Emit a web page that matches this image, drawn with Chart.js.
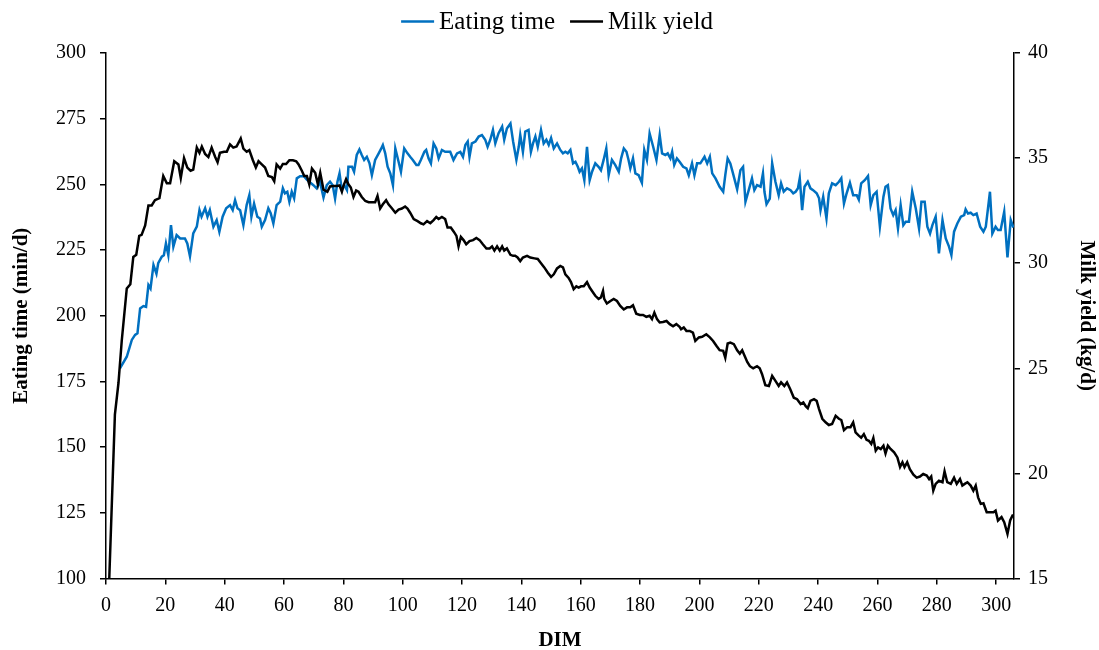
<!DOCTYPE html>
<html>
<head>
<meta charset="utf-8">
<title>Eating time and milk yield by DIM</title>
<script src="https://cdn.jsdelivr.net/npm/chart.js@4/dist/chart.umd.min.js"></script>
<style>
  html, body { margin: 0; padding: 0; background: #ffffff; }
  #wrap { width: 1099px; height: 650px; position: relative; }
</style>
</head>
<body>
<div id="wrap"><canvas id="chart"></canvas></div>
<script>
// Days in milk (DIM) and daily mean eating time, min/d
const eatingDim = [
  4.7,7,8.7,9.8,10.6,11.5,12.6,13.5,14.3,15,16,17,17.6,18.8,19.5,20.2,21,21.9,22.7,23.8,25,26.6,27.4,28.3,29.4,30.6,31.5,32.2,33.4,34.2,35,36.2,37.3,38.2,39.3,40.5,41.8,42.7,43.5,44.3,45.2,46.3,47.4,48.3,49,49.9,51,51.9,52.5,53.6,54.7,55.5,56.4,57.5,58.7,59.6,60.3,61.1,61.8,62.6,63.4,64.3,65.4,66.7,67.6,68.5,69.9,71,72.1,73.3,74.4,75.5,
  76.4,77.2,78,78.7,79.5,80.3,81.2,81.7,82.9,83.6,84.5,85.4,86.2,87,87.9,88.8,89.6,90.7,91.9,92.6,93.3,94.1,94.9,95.8,96.7,97.5,98.6,99.4,100.5,101.6,102.5,103.4,104.6,105.3,106.1,107.3,107.9,108.7,109.5,110.4,111.3,112.1,113.2,114.3,116,117.1,118.3,119.4,120.3,121.1,121.9,122.5,123.3,124.5,125.6,126.7,127.8,128.6,129.5,130.4,131.2,132.3,133.5,134.2,135.1,136.3,137.2,138.3,139.1,139.6,140.5,141.3,142.4,143.2,143.9,144.7,145.5,146.6,147.5,148.4,149.2,150,150.9,152,153.1,
  154,154.8,155.6,156.5,157.4,158.2,159,159.6,160.4,161.2,162.1,163,163.8,164.9,166,166.8,167.7,168.6,169.4,170.5,171.6,172.8,173.6,174.5,175.4,176.1,176.7,177.6,178.4,179.5,180.6,181.4,182.3,183.2,184.4,185.5,186.6,187.4,188.5,189.3,190.2,190.8,191.5,192.4,193.3,194.5,195.6,196.4,197.5,198.3,199.2,200.3,201.7,202.6,203.5,204.3,205.4,206.8,208,208.7,209.5,210.4,211.3,212.7,213.8,214.7,215.5,216.6,217.7,218.5,219.4,220.6,221.4,221.9,222.6,223.7,224.5,225.6,226.7,227.5,228.4,229.5,230.7,
  231.6,232.4,233.2,233.8,234.6,235.4,236.5,237.4,238.3,239.5,240.3,240.8,241.7,242.8,243.6,244.7,245.9,247,247.8,248.7,249.6,250.7,251.8,253,253.7,254.5,255.7,256.8,257.7,258.6,259.7,260.8,262,262.7,263.5,264.4,265.3,266.1,266.9,267.8,268.7,269.5,270.6,271.7,272.9,274,274.8,275.9,276.8,277.7,278.5,279.6,280.7,281.9,283,284.1,284.9,285.8,286.9,288.1,289.2,289.7,290.5,291.4,292.3,293.4,294.6,295.7,296.5,297.9,298.7,299.8,300.6,301.5,302.7,303.8,304.9,305.8
];
const eatingTime = [
  180,184.4,190.8,192.7,193.3,202.8,203.7,203.4,211.7,210.4,219.3,216,220,222.5,223,227.5,223.1,234.5,226.3,230.7,229.4,229.4,227.5,222.6,231.3,233.9,240.2,237.7,240.9,237.7,240.2,233.9,236.4,232,237.7,240.9,242.1,240.2,244,240.9,240.2,234.5,242.1,245.9,237.7,242.7,237.7,237,233.9,236.4,240.9,239,235.1,242.1,243.4,248.5,246.6,247.2,243.4,247.2,244.7,252.3,253.1,253.1,251.9,251,249.7,248.5,251,245,249.7,251,
  249.7,244.6,251,254.2,247.8,249.7,247.8,256.7,256.7,254.8,261.2,263.3,261.2,259.3,260.5,258,253.5,259.3,261.8,263.3,265,261.8,256.7,254.2,249.7,263.7,258.6,254.8,263.7,261.8,260.5,259.3,257.4,257.4,259.3,262.4,263.1,259.9,258,265.6,263.7,259.9,263.1,262.4,262.4,259.3,261.8,262.4,260.5,265,266.3,260.5,265.6,266.3,268.2,268.8,267,264.3,267,270.7,265.6,269.5,272,267,271.3,273.2,266.3,259.3,264.3,268.8,262.4,270.1,270.7,262.4,265.6,268.2,264.3,270.7,265.6,267,265,267.6,263.7,265.6,263.1,
  261.8,262.4,261.8,263.1,258,258.6,256.7,254.8,256.1,251.6,264.3,251.6,254.8,258,256.7,255.4,259.3,263.7,253.5,259.3,257.4,254.8,259.9,263.7,262.4,259.3,256.1,259.9,254.2,253.5,250.6,263.1,259.3,269.4,264.3,259.3,268.8,261.8,261.2,261.8,259.9,262.4,257.4,259.9,258.6,256.7,256.1,253.5,258,253.5,258,258,260.5,258,260.5,254.2,252.3,249.1,247.2,253.5,259.9,258,254.2,248.1,255.4,256.7,243.4,247.8,252.3,247.8,249.7,249.1,254.2,247.2,242.5,244.6,258,251,245.9,250.4,247.2,248.5,247.8,
  246.6,247.2,248.5,252.3,240.2,249.1,251,248.5,247.8,246.6,244.7,240.2,245.3,237,246.6,250.4,249.7,251,252.3,242.7,246.6,250.6,245.9,245.9,244.2,250.4,251.6,253.2,242.1,245.9,247.2,233.9,245.3,249.1,249.7,240.8,238.3,240.2,233.2,242.1,234.5,235.8,235.8,247.2,240.8,233.2,243.4,243.4,233.9,231.3,234.5,237.7,223.7,236.4,229.4,226.3,223.1,232,235.1,237.7,238.3,240.5,238.9,239.2,238.3,238.9,233.9,232,233.9,247.2,231.3,233.9,232.6,232.6,239.6,222.2,236.4,233.6
];

// Days in milk (DIM) and daily mean milk yield, kg/d
const milkDim = [
  1.1,3,4.2,5.3,7,8.2,9.2,10.2,11.2,12,13.2,14.3,15.4,16.5,18,19.3,20.5,21.6,23,24.4,25.2,26.3,27.4,28.5,29.4,30.6,31.5,32.3,33.4,34.5,35.6,36.8,37.6,38.4,39.8,40.7,41.8,42.9,44,45.4,46.3,47.4,48.3,49.5,50.5,51.4,52.5,53.6,54.7,55.9,56.7,57.5,58.7,59.6,60.7,61.8,63,64.1,64.9,66,66.8,67.7,68.5,69.4,70.5,71.4,72.2,73.3,74.6,75.5,
  76.7,77.8,78.7,79.5,80,80.9,81.7,82.5,83.4,84.3,85.1,86.2,87.4,88.5,89.9,90.7,91.5,92.4,93.3,94.4,95.2,96.4,97.5,98.6,99.7,100.8,101.6,102.5,103.7,105,106.1,107,108.2,109.3,110.4,111.3,112.1,113.2,114.3,115.1,116.2,117.2,118.1,118.8,119.6,120.5,121.4,122.5,123.7,124.8,125.9,127,128.2,129.3,130.1,130.9,131.8,132.7,133.5,134.2,135.1,136.3,137.2,137.9,138.7,139.6,140.5,141.9,143,144.4,145.5,146.6,147.7,148.9,150,150.9,152,153.1,
  154,154.8,155.9,156.7,157.6,158.5,159.3,160.1,161,162.1,163,163.8,164.9,166,166.8,167.5,167.9,168.8,170,171.1,172.2,173.3,174.5,175.6,176.7,177.6,178.7,179.9,181,182.1,183.2,184,184.8,185.7,186.6,187.7,188.9,190,191.1,192.2,193.3,193.8,194.7,195.6,196.7,197.8,198.6,199.8,200.9,202.3,203.5,204.6,205.7,206.8,208,208.7,209.5,210.4,211.6,212.7,213.6,214.4,215.2,216.1,217,218.1,219.4,220.3,221.1,222.2,223.4,224.5,225.6,226.7,227.5,228.6,229.5,230.6,
  231.8,232.9,234.1,235,235.8,236.5,237.4,238.6,239.5,240.3,241.4,242.5,243.6,244.7,245.9,247,247.8,248.7,249.8,250.9,251.8,252.6,253.7,254.5,255.4,256.3,257.1,257.9,258.6,259.4,260.2,261.1,262,262.7,263.5,264.4,265.6,266.7,267.6,268.4,269.1,270,270.9,272.1,273.2,274.3,275.4,276.6,277.4,278.1,278.8,279.6,280.7,281.9,282.6,283.5,284.7,285.8,286.7,287.8,288.6,289.4,290.3,291.4,292.3,293.1,293.9,294.8,295.7,296.8,297.9,299.1,299.8,300.6,301.8,302.7,303.8,304.7,305.5,305.9
];
const milkYield = [
  15,22.8,24.3,26.3,28.8,29,30.3,30.4,31.3,31.35,31.8,32.75,32.75,33,33.1,34.15,33.8,33.8,34.85,34.7,34.05,35,34.55,34.4,34.45,35.5,35.25,35.55,35.2,35.05,35.5,35.05,34.8,35.25,35.3,35.3,35.65,35.5,35.55,35.93,35.45,35.3,35.38,34.9,34.55,34.85,34.7,34.55,34.15,34.1,33.9,34.7,34.5,34.72,34.72,34.9,34.9,34.85,34.7,34.4,34.15,34.15,33.75,34.5,34.3,33.75,34.3,33.5,33.4,33.65,
  33.67,33.67,33.7,33.4,33.67,34,33.75,33.6,33.15,33.46,33.4,33.15,32.96,32.9,32.9,32.9,33.2,32.6,32.8,33,32.8,32.6,32.4,32.55,32.6,32.7,32.6,32.4,32.1,32,31.9,31.85,32,31.9,32.05,32.2,32.1,32.2,32.1,31.7,31.7,31.5,31.3,30.8,31.25,31.1,30.9,31.05,31.1,31.2,31.1,30.9,30.7,30.7,30.8,30.6,30.8,30.6,30.8,30.6,30.7,30.4,30.35,30.35,30.27,30.1,30.27,30.35,30.27,30.23,30.2,30,29.8,29.55,29.35,29.47,29.75,29.87,
  29.8,29.47,29.3,29.1,28.76,28.9,28.84,28.9,28.9,29.1,28.84,28.68,28.45,28.3,28.37,28.68,28.3,28.08,28.2,28.3,28.2,27.97,27.8,27.9,27.9,28,27.6,27.54,27.54,27.45,27.5,27.34,27.65,27.34,27.18,27.2,27.25,27.1,27,27.1,26.97,26.86,26.94,26.78,26.78,26.7,26.3,26.47,26.5,26.62,26.47,26.3,26.07,25.86,25.83,25.5,26.18,26.22,26.15,25.86,25.7,25.86,25.6,25.3,25.1,25,25.1,25,24.72,24.2,24.16,24.64,24.4,24.16,24.33,24.16,24.33,24,
  23.6,23.53,23.3,23.38,23.2,23.1,23.45,23.53,23.45,23.06,22.6,22.43,22.3,22.35,22.74,22.6,22.54,22.06,22.2,22.2,22.43,21.95,21.8,21.7,21.87,21.6,21.55,21.4,21.68,21.08,21.24,21.16,21.32,20.95,21.32,21.16,21,20.76,20.3,20.53,20.3,20.53,20.2,19.94,19.8,19.85,19.97,19.9,19.73,19.85,19.18,19.5,19.65,19.58,20.1,19.58,19.5,19.8,19.5,19.73,19.42,19.5,19.58,19.42,19.18,19.42,18.86,18.55,18.58,18.15,18.15,18.15,18.23,17.76,17.92,17.68,17.12,17.76,18,18
];

// Axis ticks and labels
const dimTicks = [0, 20, 40, 60, 80, 100, 120, 140, 160, 180, 200, 220, 240, 260, 280, 300];
const eatingTicks = [100, 125, 150, 175, 200, 225, 250, 275, 300];
const milkTicks = [15, 20, 25, 30, 35, 40];
const seriesNames = ['Eating time', 'Milk yield'];
const seriesColors = ['#0070C0', '#000000'];
const titleX = 'DIM';
const titleLeft = 'Eating time (min/d)';
const titleRight = 'Milk yield (kg/d)';

const FONT = '"Liberation Serif", "Times New Roman", Times, serif';

function toPoints(xs, ys) {
  return xs.map((x, i) => ({ x: x, y: ys[i] }));
}

// Legend drawn as a row of line samples above the plot, centred on the plot area
const lineLegend = {
  id: 'lineLegend',
  afterDraw(chart) {
    const ctx = chart.ctx;
    const area = chart.chartArea;
    const sample = 33, gap = 5, between = 15;
    ctx.save();
    ctx.font = '25px ' + FONT;
    const widths = seriesNames.map(n => ctx.measureText(n).width);
    let total = 0;
    widths.forEach((w, i) => { total += sample + gap + w + (i ? between : 0); });
    let x = (area.left + area.right) / 2 - total / 2 - 3;
    const y = 21.5;
    seriesNames.forEach((name, i) => {
      ctx.strokeStyle = seriesColors[i];
      ctx.lineWidth = 2.5;
      ctx.beginPath();
      ctx.moveTo(x, y);
      ctx.lineTo(x + sample, y);
      ctx.stroke();
      ctx.fillStyle = '#000';
      ctx.textBaseline = 'middle';
      ctx.textAlign = 'left';
      ctx.fillText(name, x + sample + gap, y + 1);
      x += sample + gap + widths[i] + between;
    });
    ctx.restore();
  }
};

const axisGrid = {
  display: true,
  drawOnChartArea: false,
  drawTicks: true,
  tickLength: 6,
  color: '#000',
  lineWidth: 1.5
};
const axisBorder = { display: true, color: '#000', width: 1.5 };

new Chart(document.getElementById('chart'), {
  type: 'line',
  data: {
    datasets: [
      {
        label: seriesNames[0],
        data: toPoints(eatingDim, eatingTime),
        borderColor: seriesColors[0],
        backgroundColor: seriesColors[0],
        borderWidth: 2.5,
        pointRadius: 0,
        tension: 0,
        fill: false,
        yAxisID: 'y',
        order: 1
      },
      {
        label: seriesNames[1],
        data: toPoints(milkDim, milkYield),
        borderColor: seriesColors[1],
        backgroundColor: seriesColors[1],
        borderWidth: 2.5,
        pointRadius: 0,
        tension: 0,
        fill: false,
        yAxisID: 'y1',
        order: 0
      }
    ]
  },
  options: {
    responsive: true,
    maintainAspectRatio: false,
    animation: false,
    devicePixelRatio: 1,
    layout: { padding: { top: 53, left: 0, right: 0, bottom: 0 } },
    plugins: {
      legend: { display: false },
      tooltip: { enabled: false }
    },
    scales: {
      x: {
        type: 'linear',
        min: 0,
        max: 306,
        afterBuildTicks: s => { s.ticks = dimTicks.map(v => ({ value: v })); },
        afterFit: s => { s.height = 71.5; },
        grid: axisGrid,
        border: axisBorder,
        ticks: { color: '#000', font: { family: FONT, size: 20 }, padding: 9, maxRotation: 0, autoSkip: false },
        title: { display: true, text: titleX, color: '#000', font: { family: FONT, size: 21, weight: 'bold' }, padding: { top: 0, bottom: -3 } }
      },
      y: {
        type: 'linear',
        position: 'left',
        min: 100,
        max: 300,
        afterBuildTicks: s => { s.ticks = eatingTicks.map(v => ({ value: v })); },
        afterFit: s => { s.width = 106; },
        grid: axisGrid,
        border: axisBorder,
        ticks: { color: '#000', font: { family: FONT, size: 20 }, padding: 14 },
        title: { display: true, text: titleLeft, color: '#000', font: { family: FONT, size: 21, weight: 'bold' }, padding: { top: 9, bottom: 0 } }
      },
      y1: {
        type: 'linear',
        position: 'right',
        min: 15,
        max: 40,
        afterBuildTicks: s => { s.ticks = milkTicks.map(v => ({ value: v })); },
        afterFit: s => { s.width = 85; },
        grid: axisGrid,
        border: axisBorder,
        ticks: { color: '#000', font: { family: FONT, size: 20 }, padding: 8 },
        title: { display: true, text: titleRight, color: '#000', font: { family: FONT, size: 21, weight: 'bold' }, padding: { top: 0, bottom: 0 } }
      }
    }
  },
  plugins: [lineLegend]
});
</script>
</body>
</html>
